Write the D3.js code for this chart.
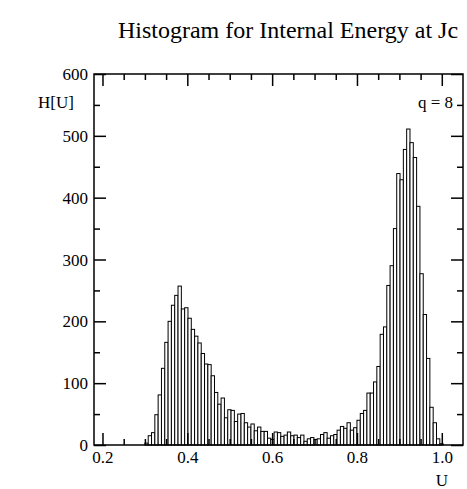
<!DOCTYPE html>
<html>
<head>
<meta charset="utf-8">
<script src="https://cdn.jsdelivr.net/npm/d3@7"></script>
<style>
  html, body { margin: 0; padding: 0; background: #fff; }
  svg text { font-family: "Liberation Serif", "Times New Roman", serif; fill: #000; }
</style>
</head>
<body>
<svg id="chart" width="467" height="489"></svg>
<script>
// ---- data ----
const binStart = 0.30;          // left edge of first bin (U)
const binWidth = 0.0078125;     // bin width (U)
const counts = [
  3, 15, 20, 49, 81, 124, 166, 200, 226, 242,
  257, 220, 222, 205, 187, 176, 165, 148, 131, 130,
  112, 85, 66, 76, 44, 57, 56, 38, 50, 51,
  36, 29, 34, 23, 29, 22, 22, 11, 9, 21,
  20, 14, 16, 21, 15, 16, 12, 16, 6, 10,
  12, 9, 10, 17, 20, 11, 15, 17, 24, 30,
  27, 36, 24, 28, 40, 51, 56, 84, 84, 102,
  127, 179, 191, 258, 290, 350, 439, 429, 478, 511,
  489, 465, 386, 277, 211, 140, 61, 36, 10, 2
];
const xTickValues = [0.2, 0.4, 0.6, 0.8, 1.0];
const xTickLabels = ["0.2", "0.4", "0.6", "0.8", "1.0"];
const yTickValues = [0, 100, 200, 300, 400, 500, 600];
const yTickLabels = ["0", "100", "200", "300", "400", "500", "600"];
const titleText = "Histogram for Internal Energy at Jc";
const xLabel = "U";
const yLabel = "H[U]";
const legendText = "q = 8";

// ---- layout ----
const svg = d3.select("#chart");
const pL = 94, pR = 463, pT = 74, pB = 445;
const x = d3.scaleLinear().domain([0.18, 1.05]).range([pL, pR]);
const y = d3.scaleLinear().domain([0, 600]).range([pB, pT]);

const bins = counts.map((c, i) => ({
  lo: binStart + i * binWidth,
  hi: binStart + (i + 1) * binWidth,
  c
}));

// bars
svg.append("g").selectAll("rect").data(bins).join("rect")
  .attr("x", d => x(d.lo))
  .attr("width", d => x(d.hi) - x(d.lo))
  .attr("y", d => y(d.c))
  .attr("height", d => y(0) - y(d.c))
  .attr("fill", "#fff")
  .attr("stroke", "#000")
  .attr("stroke-width", 1);

// axes with inward ticks
const majorLen = 12, minorLen = 6;
const xMinor = d3.range(0.2, 1.0001, 0.05).filter(v => Math.abs(v * 5 - Math.round(v * 5)) > 1e-6);
const yMinor = d3.range(50, 600, 100);

function clean(g) { g.select(".domain").remove(); g.selectAll("line").attr("stroke-width", 1.5); return g; }

const gB = clean(svg.append("g").attr("transform", `translate(0,${pB})`)
  .call(d3.axisBottom(x).tickValues(xTickValues).tickFormat((d, i) => xTickLabels[i])
    .tickSizeInner(-majorLen).tickSizeOuter(0)));
gB.selectAll("text").attr("dy", "0").attr("y", 18).attr("font-size", null).attr("font-family", null).style("font-size", "17px");
clean(svg.append("g").attr("transform", `translate(0,${pB})`)
  .call(d3.axisBottom(x).tickValues(xMinor).tickFormat("").tickSizeInner(-minorLen).tickSizeOuter(0)));

clean(svg.append("g").attr("transform", `translate(0,${pT})`)
  .call(d3.axisTop(x).tickValues(xTickValues).tickFormat("").tickSizeInner(-majorLen).tickSizeOuter(0)));
clean(svg.append("g").attr("transform", `translate(0,${pT})`)
  .call(d3.axisTop(x).tickValues(xMinor).tickFormat("").tickSizeInner(-minorLen).tickSizeOuter(0)));

const gL = clean(svg.append("g").attr("transform", `translate(${pL},0)`)
  .call(d3.axisLeft(y).tickValues(yTickValues).tickFormat((d, i) => yTickLabels[i])
    .tickSizeInner(-majorLen).tickSizeOuter(0)));
gL.selectAll("text").attr("x", -6).attr("dy", "0.33em").attr("font-size", null).attr("font-family", null).style("font-size", "17px");
clean(svg.append("g").attr("transform", `translate(${pL},0)`)
  .call(d3.axisLeft(y).tickValues(yMinor).tickFormat("").tickSizeInner(-minorLen).tickSizeOuter(0)));

clean(svg.append("g").attr("transform", `translate(${pR},0)`)
  .call(d3.axisRight(y).tickValues(yTickValues).tickFormat("").tickSizeInner(-majorLen).tickSizeOuter(0)));
clean(svg.append("g").attr("transform", `translate(${pR},0)`)
  .call(d3.axisRight(y).tickValues(yMinor).tickFormat("").tickSizeInner(-minorLen).tickSizeOuter(0)));

// frame
svg.append("rect")
  .attr("x", pL).attr("y", pT)
  .attr("width", pR - pL).attr("height", pB - pT)
  .attr("fill", "none").attr("stroke", "#000").attr("stroke-width", 1.5);

// texts
svg.append("text").attr("x", 288).attr("y", 38).attr("text-anchor", "middle")
  .style("font-size", "24px").text(titleText);
svg.append("text").attr("x", 38).attr("y", 108)
  .style("font-size", "17px").text(yLabel);
svg.append("text").attr("x", 453).attr("y", 108).attr("text-anchor", "end")
  .style("font-size", "17px").text(legendText);
svg.append("text").attr("x", x(1.0)).attr("y", 486).attr("text-anchor", "middle")
  .style("font-size", "17px").text(xLabel);
</script>
</body>
</html>
